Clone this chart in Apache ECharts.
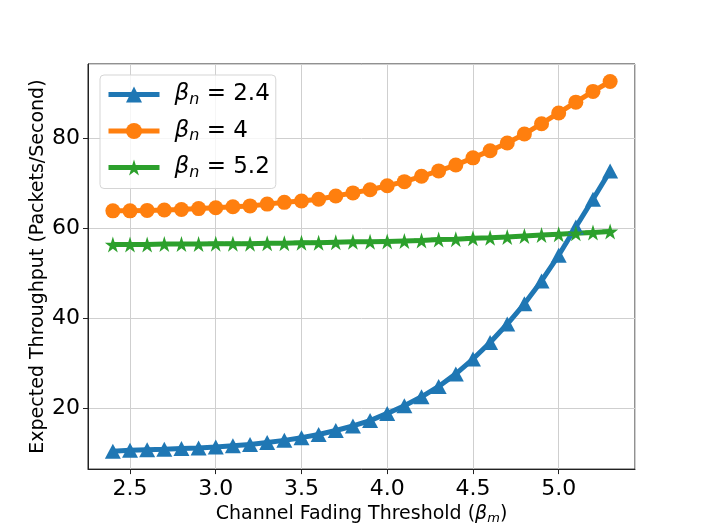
<!DOCTYPE html>
<html>
<head>
<meta charset="utf-8">
<script src="https://cdn.jsdelivr.net/npm/echarts@6/dist/echarts.min.js"></script>
<style>
html,body{margin:0;padding:0;background:#fff;}
#chart{width:706px;height:530px;}
</style>
</head>
<body>
<div id="chart"></div>
<script>
// channel fading threshold beta_m
var thresholds = [2.4,2.5,2.6,2.7,2.8,2.9,3.0,3.1,3.2,3.3,3.4,3.5,3.6,3.7,3.8,3.9,
                  4.0,4.1,4.2,4.3,4.4,4.5,4.6,4.7,4.8,4.9,5.0,5.1,5.2,5.3];
// expected throughput for each beta_n
var tp24 = [10.4,10.6,10.7,10.8,11.0,11.1,11.3,11.6,11.9,12.3,12.8,13.4,14.1,15.0,16.0,17.2,
            18.8,20.5,22.5,24.8,27.6,30.9,34.6,38.7,43.2,48.3,54.0,60.3,66.5,72.8];
var tp4  = [63.9,63.9,64.0,64.1,64.2,64.4,64.6,64.8,65.0,65.4,65.8,66.1,66.5,67.2,67.9,68.6,
            69.5,70.4,71.6,72.8,74.1,75.7,77.3,79.0,81.0,83.3,85.7,88.1,90.5,92.7];
var tp52 = [56.4,56.4,56.4,56.5,56.5,56.5,56.6,56.6,56.6,56.7,56.7,56.8,56.8,56.9,57.0,57.0,
            57.1,57.2,57.3,57.5,57.6,57.8,57.9,58.1,58.3,58.5,58.7,58.9,59.1,59.3];
var seriesNames = ['2.4','4','5.2'];

function pairs(ys){
    var out=[];
    for(var i=0;i<thresholds.length;i++){
        out.push([thresholds[i],ys[i]]);
    }
    return out;
}

var starPath='path://M50,0 L61.2,34.5 L97.6,34.5 L68.2,55.9 L79.4,90.5 L50,69.1 L20.6,90.5 L31.8,55.9 L2.4,34.5 L38.8,34.5 Z';
var font='DejaVu Sans';

var myChart=echarts.init(document.getElementById('chart'));
var option={
    animation:false,
    grid:{
        left:88,
        right:71,
        top:64,
        bottom:58,
        show:true,
        borderColor:'#222',
        borderWidth:1,
        backgroundColor:'transparent'
    },
    legend:{
        orient:'vertical',
        left:100,
        top:75,
        padding:[8,6,8,6],
        itemGap:12,
        itemWidth:51,
        itemHeight:20,
        backgroundColor:'rgba(255,255,255,0.8)',
        borderColor:'#d5d5d5',
        borderWidth:1,
        borderRadius:4,
        lineStyle:{width:5},
        formatter:function(name){
            return '{i|β}{s|n}{t| = '+name+'}';
        },
        textStyle:{
            fontFamily:font,
            color:'#000',
            padding:[0,0,0,10],
            rich:{
                i:{fontFamily:font,fontStyle:'italic',fontSize:23,color:'#000'},
                s:{fontFamily:font,fontStyle:'italic',fontSize:16,color:'#000',padding:[10,0,0,0]},
                t:{fontFamily:font,fontSize:23,color:'#000'}
            }
        }
    },
    xAxis:{
        type:'value',
        min:2.255,
        max:5.445,
        splitNumber:6,
        name:'{a|Channel Fading Threshold (}{i|β}{s|m}{a|)}',
        nameLocation:'middle',
        nameGap:34,
        nameTextStyle:{
            rich:{
                a:{fontFamily:font,fontSize:19,color:'#000'},
                i:{fontFamily:font,fontStyle:'italic',fontSize:19,color:'#000'},
                s:{fontFamily:font,fontStyle:'italic',fontSize:13,color:'#000',padding:[8,0,0,0]}
            }
        },
        axisLine:{show:true,onZero:false,lineStyle:{color:'#222',width:1}},
        axisTick:{show:true,length:5,lineStyle:{color:'#222'}},
        axisLabel:{
            fontFamily:font,
            fontSize:22,
            color:'#000',
            margin:9,
            showMinLabel:false,
            showMaxLabel:false,
            formatter:function(v){return v.toFixed(1);}
        },
        splitLine:{show:true,lineStyle:{color:'#cfcfcf',width:1}}
    },
    yAxis:{
        type:'value',
        min:6.4,
        max:96.6,
        splitNumber:5,
        name:'Expected Throughput (Packets/Second)',
        nameLocation:'middle',
        nameGap:40,
        nameMoveOverlap:false,
        nameTextStyle:{fontFamily:font,fontSize:19,color:'#000'},
        axisLine:{show:true,onZero:false,lineStyle:{color:'#222',width:1}},
        axisTick:{show:true,length:5,lineStyle:{color:'#222'}},
        axisLabel:{
            fontFamily:font,
            fontSize:22,
            color:'#000',
            margin:8,
            showMinLabel:false,
            showMaxLabel:false
        },
        splitLine:{show:true,lineStyle:{color:'#cfcfcf',width:1}}
    },
    series:[{
        name:seriesNames[0],
        type:'line',
        data:pairs(tp24),
        symbol:'triangle',
        symbolSize:[16,15],
        showAllSymbol:true,
        itemStyle:{color:'#1f77b4'},
        lineStyle:{color:'#1f77b4',width:5}
    },{
        name:seriesNames[1],
        type:'line',
        data:pairs(tp4),
        symbol:'circle',
        symbolSize:15,
        showAllSymbol:true,
        itemStyle:{color:'#ff7f0e'},
        lineStyle:{color:'#ff7f0e',width:5}
    },{
        name:seriesNames[2],
        type:'line',
        data:pairs(tp52),
        symbol:starPath,
        symbolSize:16,
        showAllSymbol:true,
        itemStyle:{color:'#2ca02c'},
        lineStyle:{color:'#2ca02c',width:5}
    }]
};
myChart.setOption(option,true);
</script>
</body>
</html>
